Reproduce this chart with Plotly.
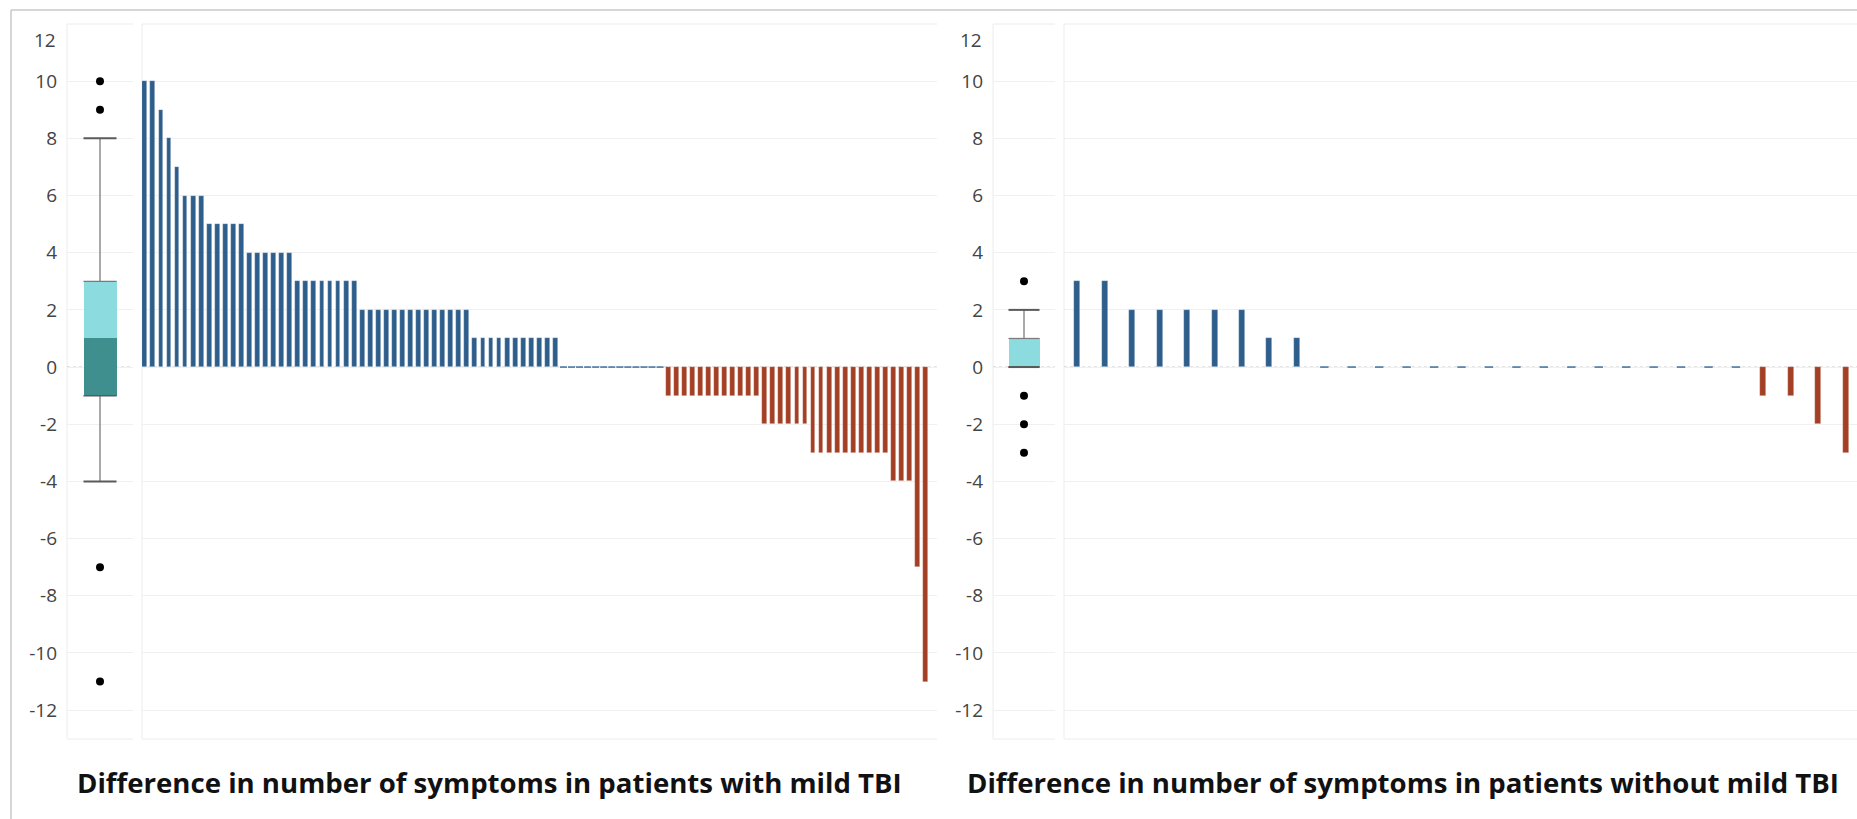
import plotly.graph_objects as go

# ---------------- data ----------------
mild_diff = [10, 10, 9, 8, 7, 6, 6, 6, 5, 5, 5, 5, 5, 4, 4, 4, 4, 4, 4,
             3, 3, 3, 3, 3, 3, 3, 3,
             2, 2, 2, 2, 2, 2, 2, 2, 2, 2, 2, 2, 2, 2,
             1, 1, 1, 1, 1, 1, 1, 1, 1, 1, 1,
             0, 0, 0, 0, 0, 0, 0, 0, 0, 0, 0, 0, 0,
             -1, -1, -1, -1, -1, -1, -1, -1, -1, -1, -1, -1,
             -2, -2, -2, -2, -2, -2,
             -3, -3, -3, -3, -3, -3, -3, -3, -3, -3,
             -4, -4, -4, -7, -11]

nomild_diff = [3, 3, 2, 2, 2, 2, 2, 1, 1,
               0, 0, 0, 0, 0, 0, 0, 0, 0, 0, 0, 0, 0, 0, 0, 0,
               -1, -1, -2, -3]

# box-plot statistics (as drawn)
mild_box = dict(q1=-1, median=1, q3=3, lower=-4, upper=8)
mild_outliers = [10, 9, -7, -11]
nomild_box = dict(q1=0, median=0, q3=1, lower=0, upper=2)
nomild_outliers = [3, -1, -2, -3]

y_ticks = [-12, -10, -8, -6, -4, -2, 0, 2, 4, 6, 8, 10]
title_left = "Difference in number of symptoms in patients with mild TBI"
title_right = "Difference in number of symptoms in patients without mild TBI"

# ---------------- styling ----------------
W, H = 1857, 819
BLUE = "#2E5E8C"
RED = "#A33F24"
LIGHT_TEAL = "#8CDBDE"
DARK_TEAL = "#3F8F8F"
GRID = "#f0f0f0"
TICK_FONT = dict(family="Open Sans, Lato, sans-serif", size=19, color="#444444")

ydom = [1 - 739 / H, 1 - 24 / H]
yrange = [-13.01, 12.0]

fig = go.Figure()


def add_bars(values, xa, ya, width, dash_size):
    xs = list(range(len(values)))
    colors = [BLUE if v >= 0 else RED for v in values]
    fig.add_trace(go.Bar(
        x=xs, y=values, xaxis=xa, yaxis=ya, width=width,
        marker=dict(color=colors, line=dict(color="rgba(255,255,255,0.45)", width=0.6)),
        showlegend=False, hoverinfo="x+y"))
    zx = [i for i, v in zip(xs, values) if v == 0]
    zy = [0 for _ in zx]
    fig.add_trace(go.Scatter(
        x=zx, y=zy, xaxis=xa, yaxis=ya, mode="markers",
        marker=dict(symbol="line-ew", size=dash_size,
                    line=dict(color="#4a76a0", width=1.6)),
        showlegend=False, hoverinfo="skip"))


def add_box(stats, outliers, xa, ya):
    c = 0.5
    hw = 0.25
    # lower part (q1 -> median), dark
    fig.add_trace(go.Bar(
        x=[c], y=[stats["median"] - stats["q1"]], base=[stats["q1"]], width=2 * hw,
        xaxis=xa, yaxis=ya, marker=dict(color=DARK_TEAL, line=dict(width=0)),
        showlegend=False, hoverinfo="skip"))
    # upper part (median -> q3), light
    fig.add_trace(go.Bar(
        x=[c], y=[stats["q3"] - stats["median"]], base=[stats["median"]], width=2 * hw,
        xaxis=xa, yaxis=ya, marker=dict(color=LIGHT_TEAL, line=dict(width=0)),
        showlegend=False, hoverinfo="skip"))
    # whiskers
    for a, b in [(stats["q3"], stats["upper"]), (stats["q1"], stats["lower"])]:
        if a != b:
            fig.add_trace(go.Scatter(
                x=[c, c], y=[a, b], xaxis=xa, yaxis=ya, mode="lines",
                line=dict(color="#8c8c8c", width=1.5), showlegend=False, hoverinfo="skip"))
    # caps & box edges
    for v, col, w in [(stats["upper"], "#5a5a5a", 2), (stats["lower"], "#5a5a5a", 2),
                      (stats["q3"], "#7a7a7a", 1.2), (stats["q1"], "#5a5a5a", 1.5)]:
        fig.add_trace(go.Scatter(
            x=[c - hw, c + hw], y=[v, v], xaxis=xa, yaxis=ya, mode="lines",
            line=dict(color=col, width=w), showlegend=False, hoverinfo="skip"))
    fig.add_trace(go.Scatter(
        x=[c] * len(outliers), y=outliers, xaxis=xa, yaxis=ya, mode="markers",
        marker=dict(color="black", size=8), showlegend=False, hoverinfo="y"))


add_box(mild_box, mild_outliers, "x", "y")
add_bars(mild_diff, "x2", "y", 0.6, 5)
add_box(nomild_box, nomild_outliers, "x3", "y2")
add_bars(nomild_diff, "x4", "y2", 0.22, 6)

xcommon = dict(showgrid=False, zeroline=False, showticklabels=False, showline=False, ticks="", fixedrange=True)
ycommon = dict(domain=ydom, range=yrange, tickvals=y_ticks, ticktext=[str(t) for t in y_ticks],
               gridcolor=GRID, gridwidth=1, zeroline=False, showline=False, ticks="",
               tickfont=TICK_FONT, ticklabelstandoff=9, fixedrange=True)

fig.update_layout(
    width=W, height=H, margin=dict(l=0, r=0, t=0, b=0),
    paper_bgcolor="white", plot_bgcolor="white",
    barmode="overlay", bargap=0,
    showlegend=False,
    xaxis=dict(domain=[67 / W, 133 / W], range=[0, 1], anchor="y", **xcommon),
    xaxis2=dict(domain=[142 / W, 937 / W], range=[-0.35, 98.4], anchor="y", **xcommon),
    xaxis3=dict(domain=[993 / W, 1055 / W], range=[0, 1], anchor="y2", **xcommon),
    xaxis4=dict(domain=[1064 / W, 1.0], range=[-0.485, 28.41], anchor="y2", **xcommon),
    yaxis=dict(anchor="x", **ycommon),
    yaxis2=dict(anchor="x3", **ycommon),
)

shapes = []
# pane borders (left, top, bottom) and dotted zero lines
for xa, ya in [("x", "y"), ("x2", "y"), ("x3", "y2"), ("x4", "y2")]:
    xd, yd = xa + " domain", ya + " domain"
    line = dict(color="#ececec", width=1)
    shapes.append(dict(type="line", xref=xd, yref=yd, x0=0, x1=0, y0=0, y1=1, line=line, layer="below"))
    shapes.append(dict(type="line", xref=xd, yref=yd, x0=0, x1=1, y0=1, y1=1, line=line, layer="below"))
    shapes.append(dict(type="line", xref=xd, yref=yd, x0=0, x1=1, y0=0, y1=0, line=line, layer="below"))
    shapes.append(dict(type="line", xref=xd, yref=ya, x0=0, x1=1, y0=0, y1=0,
                       line=dict(color="#c4c4c4", width=1, dash="dot"), layer="below"))
# outer frame (top and left edges)
shapes.append(dict(type="line", xref="paper", yref="paper", x0=11 / W, x1=1.0, y0=1 - 10 / H, y1=1 - 10 / H,
                   line=dict(color="#c8c8c8", width=1.5)))
shapes.append(dict(type="line", xref="paper", yref="paper", x0=11 / W, x1=11 / W, y0=-0.01, y1=1 - 10 / H,
                   line=dict(color="#c8c8c8", width=1.5)))
fig.update_layout(shapes=shapes)

annotations = []
# top "12" labels, nudged inside like the reference
for xa, ya in [("x", "y"), ("x3", "y2")]:
    annotations.append(dict(text="12", xref=xa + " domain", yref=ya, x=0, y=12, xanchor="right",
                            yanchor="middle", xshift=-9, yshift=-16, showarrow=False, font=TICK_FONT))
TITLE_FONT = dict(family="Open Sans, sans-serif", size=27.6, color="#111111")
annotations.append(dict(text="<b>" + title_left + "</b>", xref="paper", yref="paper",
                        x=489 / W, y=1 - 782 / H, xanchor="center", yanchor="middle",
                        showarrow=False, font=TITLE_FONT))
annotations.append(dict(text="<b>" + title_right + "</b>", xref="paper", yref="paper",
                        x=1403 / W, y=1 - 782 / H, xanchor="center", yanchor="middle",
                        showarrow=False, font=TITLE_FONT))
fig.update_layout(annotations=annotations)

fig.write_html("out.html", config={"displayModeBar": False})
